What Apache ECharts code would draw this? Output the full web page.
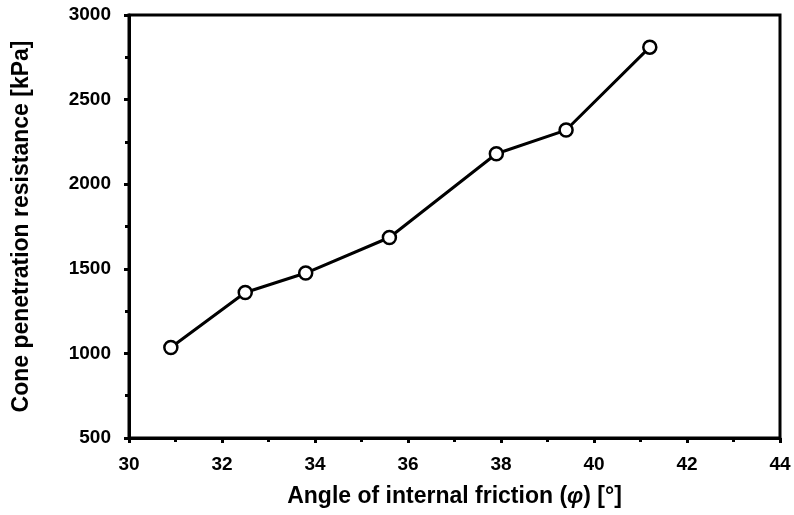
<!DOCTYPE html>
<html><head><meta charset="utf-8">
<script src="https://cdn.jsdelivr.net/npm/echarts@6/dist/echarts.min.js"></script>
<style>html,body{margin:0;padding:0;background:#fff}#c{width:794px;height:515px}</style>
</head><body><div id="c"></div>
<script>
const angles = [30.9, 32.5, 33.8, 35.6, 37.9, 39.4, 41.2];
const resistance = [1035, 1360, 1475, 1685, 2180, 2320, 2810];
const xTitle = 'Angle of internal friction (';
const yTitle = 'Cone penetration resistance [kPa]';

const chart = echarts.init(document.getElementById('c'));
const font = '"Liberation Sans", Arial, sans-serif';
chart.setOption({
  animation: false,
  backgroundColor: '#fff',
  grid: {left: 129, right: 14, top: 15, bottom: 77, show: true, borderColor: '#000', borderWidth: 3, backgroundColor: 'transparent'},
  xAxis: {
    type: 'value', min: 30, max: 44, interval: 2,
    name: '{n|' + xTitle + '}{i|φ}{n|) [°]}',
    nameLocation: 'middle', nameGap: 47,
    nameTextStyle: {rich: {n: {fontFamily: font, fontWeight: 'bold', fontSize: 23, color: '#000'}, i: {fontFamily: font, fontWeight: 'bold', fontStyle: 'italic', fontSize: 23, color: '#000'}}},
    axisLine: {lineStyle: {color: '#000', width: 3}},
    axisTick: {length: 5, lineStyle: {color: '#000', width: 3}},
    minorTick: {show: true, splitNumber: 2, length: 4, lineStyle: {color: '#000', width: 3}},
    splitLine: {show: false},
    axisLabel: {fontFamily: font, fontWeight: 'bold', fontSize: 19, color: '#000', margin: 17, formatter: v => String(v)}
  },
  yAxis: {
    type: 'value', min: 500, max: 3000, interval: 500,
    name: yTitle, nameLocation: 'middle', nameGap: 96,
    nameTextStyle: {fontFamily: font, fontWeight: 'bold', fontSize: 23, color: '#000'},
    axisLine: {lineStyle: {color: '#000', width: 3}},
    axisTick: {length: 5, lineStyle: {color: '#000', width: 3}},
    minorTick: {show: true, splitNumber: 2, length: 4, lineStyle: {color: '#000', width: 3}},
    splitLine: {show: false},
    axisLabel: {fontFamily: font, fontWeight: 'bold', fontSize: 19, color: '#000', margin: 18, formatter: v => String(v)}
  },
  series: [{
    type: 'line',
    data: angles.map((a, i) => [a, resistance[i]]),
    symbol: 'circle', symbolSize: 13,
    itemStyle: {color: '#fff', borderColor: '#000', borderWidth: 2.5},
    lineStyle: {color: '#000', width: 3},
    z: 5
  }]
});
</script></body></html>
